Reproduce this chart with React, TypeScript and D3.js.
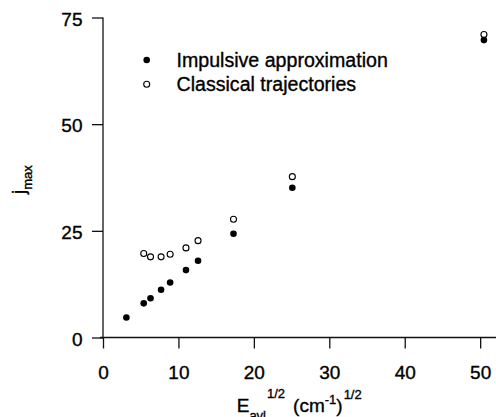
import React, { useEffect, useRef } from "react";
import * as d3 from "d3";

const impulsiveX = [3.1, 5.4, 6.3, 7.7, 8.9, 11.0, 12.6, 17.3, 25.1, 50.5];
const impulsiveY = [4.7, 8.0, 9.2, 11.2, 12.9, 15.8, 18.0, 24.3, 35.1, 69.7];
const classicalX = [5.4, 6.3, 7.7, 8.9, 11.0, 12.6, 17.3, 25.1, 50.5];
const classicalY = [19.7, 18.9, 18.9, 19.5, 21.0, 22.7, 27.7, 37.7, 71.0];
const xTicks = [0, 10, 20, 30, 40, 50];
const yTicks = [0, 25, 50, 75];
const legendLabels = ["Impulsive approximation", "Classical trajectories"];

const W = 496;
const H = 417;
const FONT = "'Liberation Sans', Arial, Helvetica, sans-serif";
const TS = 0.35; // slight text stroke to mimic heavier print

export default function App() {
  const xAxisRef = useRef<SVGGElement>(null);
  const yAxisRef = useRef<SVGGElement>(null);

  const x = d3.scaleLinear().domain([0, 52.1]).range([103, 496]);
  const y = d3.scaleLinear().domain([0, 75]).range([337.5, 17.5]);

  useEffect(() => {
    if (xAxisRef.current) {
      const g = d3.select(xAxisRef.current);
      g.call(
        d3.axisBottom(x).tickValues(xTicks).tickSize(11).tickSizeOuter(0).tickPadding(17.5).tickFormat(d3.format("d"))
      );
      g.select(".domain").remove();
      g.selectAll(".tick line").attr("stroke", "#111").attr("stroke-width", 1.3);
      g.selectAll(".tick text")
        .attr("font-size", 19)
        .attr("font-family", FONT)
        .attr("fill", "#000")
        .attr("stroke", "#000")
        .attr("stroke-width", TS);
    }
    if (yAxisRef.current) {
      const g = d3.select(yAxisRef.current);
      g.call(
        d3.axisLeft(y).tickValues(yTicks).tickSize(11).tickSizeOuter(0).tickPadding(9.5).tickFormat(d3.format("d"))
      );
      g.select(".domain").remove();
      g.selectAll(".tick line").attr("stroke", "#111").attr("stroke-width", 1.3);
      g.selectAll(".tick text")
        .attr("font-size", 19)
        .attr("font-family", FONT)
        .attr("fill", "#000")
        .attr("stroke", "#000")
        .attr("stroke-width", TS)
        .attr("dy", "0.4em");
    }
  }, []);

  const impulsive = impulsiveX.map((v, i) => ({ x: v, y: impulsiveY[i] }));
  const classical = classicalX.map((v, i) => ({ x: v, y: classicalY[i] }));

  return (
    <svg
      width={W}
      height={H}
      style={{ position: "absolute", left: 0, top: 0, background: "#fff" }}
      fontFamily={FONT}
    >
      <rect x={0} y={0} width={W} height={H} fill="#fff" />
      {/* axis lines */}
      <line x1={100} x2={496} y1={y(0)} y2={y(0)} stroke="#111" strokeWidth={1.3} />
      <line x1={x(0)} x2={x(0)} y1={y(75)} y2={y(0)} stroke="#111" strokeWidth={1.3} />
      <g ref={xAxisRef} transform={`translate(0,${y(0)})`} />
      <g ref={yAxisRef} transform={`translate(${x(0)},0)`} />

      {/* data */}
      {classical.map((d, i) => (
        <circle key={"c" + i} cx={x(d.x)} cy={y(d.y)} r={3} fill="#fff" stroke="#000" strokeWidth={1.1} />
      ))}
      {impulsive.map((d, i) => (
        <circle key={"i" + i} cx={x(d.x)} cy={y(d.y)} r={3.3} fill="#000" />
      ))}

      {/* legend */}
      <circle cx={146.7} cy={60} r={3.3} fill="#000" />
      <text x={176.5} y={66.8} fontSize={19.6} fill="#000" stroke="#000" strokeWidth={TS}>{legendLabels[0]}</text>
      <circle cx={146.7} cy={84.3} r={3} fill="#fff" stroke="#000" strokeWidth={1.1} />
      <text x={176.5} y={91} fontSize={19.6} fill="#000" stroke="#000" strokeWidth={TS}>{legendLabels[1]}</text>

      {/* y label */}
      <text transform="translate(25,194) rotate(-90)" fontSize={19} fill="#000" stroke="#000" strokeWidth={TS}>
        j<tspan fontSize={13} dy={7}>max</tspan>
      </text>

      {/* x label */}
      <text x={236.7} y={412} fontSize={19} fill="#000" stroke="#000" strokeWidth={TS}>
        E<tspan fontSize={13} dy={8}>avl</tspan>
        <tspan fontSize={13} dx={1} dy={-22}>1/2</tspan>
        <tspan fontSize={19} dx={8} dy={14}>(cm</tspan>
        <tspan fontSize={13} dy={-8}>-1</tspan>
        <tspan fontSize={19} dy={8}>)</tspan>
        <tspan fontSize={13} dx={1} dy={-13}>1/2</tspan>
      </text>
    </svg>
  );
}
